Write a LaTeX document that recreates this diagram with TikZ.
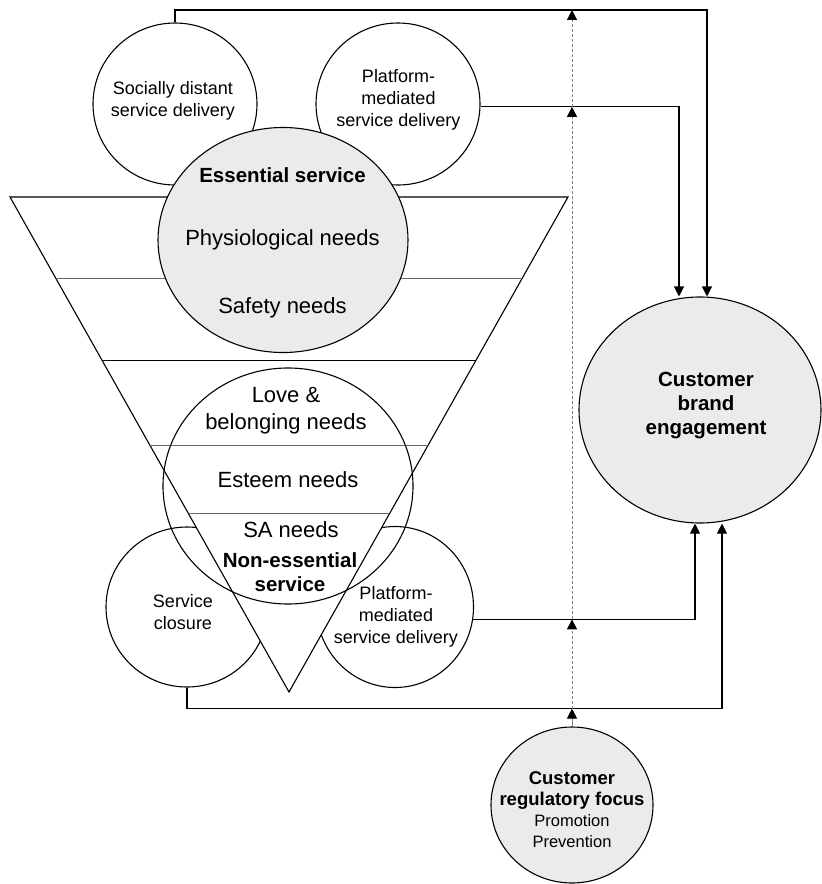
\documentclass[tikz,border=0pt]{standalone}
\usepackage{fontspec}
\setmainfont{Liberation Sans}
\usetikzlibrary{shapes.geometric,arrows.meta,calc}

\begin{document}
\begin{tikzpicture}[x=1pt, y=-1pt, line width=1.1pt,
    circ/.style={ellipse, draw, inner sep=0pt},
    greycirc/.style={circ, fill=black!8},
    needs/.style={font=\fontsize{22}{27}\selectfont, align=center},
    smalltxt/.style={font=\fontsize{18}{22}\selectfont, align=center},
    boldtxt/.style={font=\bfseries\fontsize{20.5}{24}\selectfont, align=center},
    link/.style={-{Triangle[length=10pt,width=10pt]}},
    modlink/.style={draw=gray, line width=0.9pt, dash pattern=on 3pt off 2pt, -{Triangle[length=10pt,width=10pt,color=black]}},
    layer/.style={line width=0.7pt, draw=black!60}]

    \useasboundingbox (0,0) rectangle (822,884);

    % Service delivery circles
    \node (sdist) [circ, minimum width=164pt, minimum height=162pt] at (175,104) {};
    \node (pmtop) [circ, minimum width=164pt, minimum height=162pt] at (398,104) {};
    \node (close) [circ, minimum width=162pt, minimum height=160pt] at (187,607) {};
    \node (pmbot) [circ, minimum width=157pt, minimum height=161pt] at (395,607) {};

    % Needs funnel
    \coordinate (fl) at (10,197);
    \coordinate (fr) at (568,197);
    \coordinate (fb) at (289,692);
    \draw[fill=white] (fl) -- (fr) -- (fb) -- cycle;
    \draw[layer] ($(fl)!0.164!(fb)$) -- ($(fr)!0.164!(fb)$);
    \draw ($(fl)!0.331!(fb)$) -- ($(fr)!0.331!(fb)$);
    \draw[layer] ($(fl)!0.501!(fb)$) -- ($(fr)!0.501!(fb)$);
    \draw[layer] ($(fl)!0.640!(fb)$) -- ($(fr)!0.640!(fb)$);

    % Essential and non-essential service
    \node (ess) [greycirc, minimum width=250pt, minimum height=225pt] at (283,240) {};
    \node (love) [circ, minimum width=250pt, minimum height=236pt] at (288,486) {};

    % Outcome and moderator
    \node (cbe) [greycirc, minimum width=242pt, minimum height=226pt] at (700,410) {};
    \node (crf) [greycirc, minimum width=162pt, minimum height=156pt] at (572,805) {};

    % Texts
    \node (sdisttxt) [smalltxt] at (173,101.3) {Socially distant\\service delivery};
    \node (pmtoptxt) [smalltxt] at (398.5,99.9) {Platform-\\mediated\\service delivery};
    \node (esstxt) [boldtxt, anchor=base] at (282.5,182) {Essential service};
    \node (physio) [needs, anchor=base] at (282.5,245) {Physiological needs};
    \node (safety) [needs, anchor=base] at (282.5,313) {Safety needs};
    \node (belong) [needs] at (286,410.8) {Love \&\\belonging needs};
    \node (esteem) [needs, anchor=base] at (288,487) {Esteem needs};
    \node (sa) [needs, anchor=base] at (291,537) {SA needs};
    \node (nonesstxt) [boldtxt] at (290,572.5) {Non-essential\\service};
    \node (closetxt) [smalltxt] at (183,612.4) {Service\\closure};
    \node (pmbottxt) [smalltxt] at (396,616.9) {Platform-\\mediated\\service delivery};
    \node (cbetxt) [boldtxt] at (706,405.6) {Customer\\brand\\engagement};
    \node (crftxt) [align=center, font=\fontsize{16.5}{21}\selectfont] at (572,809.8)
        {{\bfseries\fontsize{18.5}{21}\selectfont Customer}\\{\bfseries\fontsize{18.5}{21}\selectfont regulatory focus}\\Promotion\\Prevention};

    % Paths to engagement
    \draw[link] (sdist.north) -- ++(0,-12.5) coordinate (topleft) -| ([xshift=7pt]cbe.north);
    \draw[link] (pmtop.-2) -| ([xshift=-21pt]cbe.north);
    \draw[link] (pmbot.-9) -| ([xshift=-5pt]cbe.south);
    \draw[link] (close.south) -- ++(0,21) coordinate (botleft) -| ([xshift=22pt]cbe.south);

    % Moderation by regulatory focus
    \draw[modlink, solid] (crf.north) -- (crf.north |- botleft);
    \draw[modlink] (crf.north |- botleft) -- (crf.north |- pmbot.-9);
    \draw[modlink] (crf.north |- pmbot.-9) -- (crf.north |- pmtop.-2);
    \draw[modlink] (crf.north |- pmtop.-2) -- (crf.north |- topleft);

\end{tikzpicture}
\end{document}
